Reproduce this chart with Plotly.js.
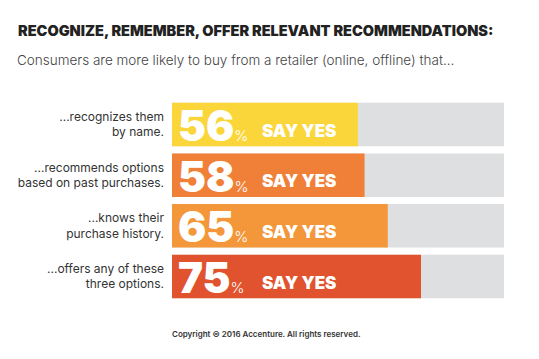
<!DOCTYPE html>
<html>
<head>
<meta charset="utf-8">
<script src="https://cdn.plot.ly/plotly-3.0.1.min.js"></script>
<style>html,body{margin:0;padding:0;background:#fff;}#chart{width:539px;height:359px;}</style>
</head>
<body>
<div id="chart"></div>
<script>
var categories = ["...recognizes them<br>by name.", "...recommends options<br>based on past purchases.", "...knows their<br>purchase history.", "...offers any of these<br>three options."];
var values = [56, 58, 65, 75];
var totals = [100, 100, 100, 100];
var barColors = ["#FBD63B", "#F07F38", "#F4963A", "#E0532E"];
var valueLabel = "SAY YES";

var bgTrace = {
  type: "bar", orientation: "h", y: categories, x: totals,
  marker: {color: "#DDDFE0"}, hoverinfo: "skip", showlegend: false
};
var valTrace = {
  type: "bar", orientation: "h", y: categories, x: values,
  marker: {color: barColors}, hoverinfo: "skip", showlegend: false
};

var annotations = [];
for (var i = 0; i < categories.length; i++) {
  annotations.push({
    xref: "x", yref: "y", x: 0, y: categories[i], xanchor: "left", yanchor: "middle",
    xshift: 4, yshift: -1, showarrow: false,
    text: "<span style='font-size:42px;font-weight:900'>" + values[i] + "</span><span style='font-size:15px;font-weight:300'>%</span>",
    font: {family: "Inter, 'Liberation Sans', sans-serif", color: "#ffffff", size: 15}
  });
  annotations.push({
    xref: "x", yref: "y", x: 0, y: categories[i], xanchor: "left", yanchor: "middle",
    xshift: 88, yshift: -6, showarrow: false,
    text: valueLabel,
    font: {family: "Inter, 'Liberation Sans', sans-serif", color: "#ffffff", size: 17, weight: 900}
  });
}
annotations.push({
  xref: "paper", yref: "paper", x: 0.283, y: -0.150, xanchor: "center", yanchor: "middle",
  showarrow: false, text: "Copyright © 2016 Accenture. All rights reserved.",
  font: {family: "Inter, 'Liberation Sans', sans-serif", size: 8, color: "#333333", weight: 600}
});
annotations.push({
  xref: "paper", yref: "paper", x: -0.473, y: 1.174, xanchor: "left", yanchor: "middle",
  showarrow: false, text: "Consumers are more likely to buy from a retailer (online, offline) that...",
  font: {family: "Inter, 'Liberation Sans', sans-serif", size: 13.5, color: "#444444", weight: 300}
});

var layout = {
  width: 539, height: 359,
  margin: {l: 172, r: 35, t: 96, b: 56},
  paper_bgcolor: "#ffffff", plot_bgcolor: "#ffffff",
  barmode: "overlay", bargap: 0.14,
  title: {
    text: "RECOGNIZE, REMEMBER, OFFER RELEVANT RECOMMENDATIONS:",
    x: 18 / 539, xref: "container", xanchor: "left", y: 328 / 359, yref: "container", yanchor: "middle",
    font: {family: "Inter, 'Liberation Sans', sans-serif", size: 14.5, color: "#222222", weight: 900}
  },
  xaxis: {range: [0, 100], visible: false, fixedrange: true},
  yaxis: {
    type: "category", autorange: "reversed", showgrid: false, zeroline: false,
    showline: false, ticks: "", ticklabelstandoff: 7,
    tickfont: {family: "Inter, 'Liberation Sans', sans-serif", size: 12, color: "#333333"}
  },
  annotations: annotations,
  font: {family: "Inter, 'Liberation Sans', sans-serif"}
};

Plotly.newPlot("chart", [bgTrace, valTrace], layout, {displayModeBar: false, staticPlot: true});
</script>
</body>
</html>
